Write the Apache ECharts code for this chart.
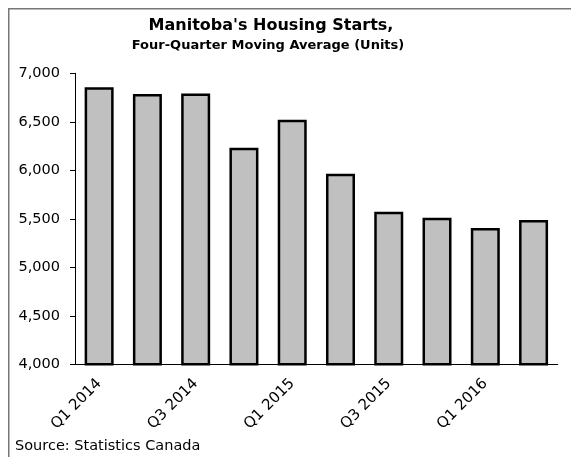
<!DOCTYPE html>
<html>
<head>
<meta charset="utf-8">
<script src="https://cdn.jsdelivr.net/npm/echarts@6/dist/echarts.min.js"></script>
<style>
html, body { margin: 0; padding: 0; background: #fff; overflow: hidden; }
#main { width: 571px; height: 457px; }
</style>
</head>
<body>
<div id="main"></div>
<script>
var quarters = ['Q1 2014', 'Q2 2014', 'Q3 2014', 'Q4 2014', 'Q1 2015', 'Q2 2015', 'Q3 2015', 'Q4 2015', 'Q1 2016', 'Q2 2016'];

var starts = [6855, 6787, 6793, 6232, 6520, 5965, 5573, 5511, 5405, 5488];

var yMin = 4000, yMax = 7000, yStep = 500;

var myChart = echarts.init(document.getElementById('main'));

var font = 'DejaVu Sans';

option = {
    animation: false,
    textStyle: {
        fontFamily: font,
        color: '#000'
    },
    title: [{
        text: "Manitoba's Housing Starts,",
        left: 266,
        top: 12.5,
        textAlign: 'center',
        textStyle: { fontFamily: font, fontSize: 16, fontWeight: 'bold', color: '#000' }
    }, {
        text: 'Four-Quarter Moving Average (Units)',
        left: 263,
        top: 34.5,
        textAlign: 'center',
        textStyle: { fontFamily: font, fontSize: 13, fontWeight: 'bold', color: '#000' }
    }, {
        text: 'Source: Statistics Canada',
        left: 10,
        top: 434,
        textStyle: { fontFamily: font, fontSize: 14.5, fontWeight: 'normal', color: '#000' }
    }],
    // frame round the chart: only the top and left edges are inside the picture
    graphic: [{
        type: 'rect',
        shape: { x: 8, y: 8, width: 563, height: 1.5 },
        style: { fill: '#777' },
        silent: true
    }, {
        type: 'rect',
        shape: { x: 8, y: 8, width: 1.5, height: 449 },
        style: { fill: '#777' },
        silent: true
    }],
    grid: {
        left: 75,
        right: 13.3,
        top: 73.3,
        bottom: 92.7
    },
    xAxis: {
        type: 'category',
        data: quarters,
        axisLine: { lineStyle: { color: '#000', width: 1 } },
        axisTick: { alignWithLabel: false, interval: 0, length: 5, lineStyle: { color: '#000' } },
        axisLabel: {
            interval: 1,
            rotate: 45,
            margin: 17,
            fontFamily: font,
            fontSize: 15,
            color: '#000'
        }
    },
    yAxis: {
        type: 'value',
        min: yMin,
        max: yMax,
        interval: yStep,
        axisLine: { show: true, lineStyle: { color: '#000', width: 1 } },
        axisTick: { show: true, length: 5, lineStyle: { color: '#000' } },
        splitLine: { show: false },
        axisLabel: {
            margin: 15,
            fontFamily: font,
            fontSize: 14.5,
            color: '#000',
            formatter: function (v) {
                return v.toLocaleString('en-US');
            }
        }
    },
    series: [{
        type: 'bar',
        data: starts,
        barWidth: 29,
        itemStyle: {
            color: '#c0c0c0',
            borderColor: '#000',
            borderWidth: 2.5
        }
    }]
};

myChart.setOption(option);
</script>
</body>
</html>
